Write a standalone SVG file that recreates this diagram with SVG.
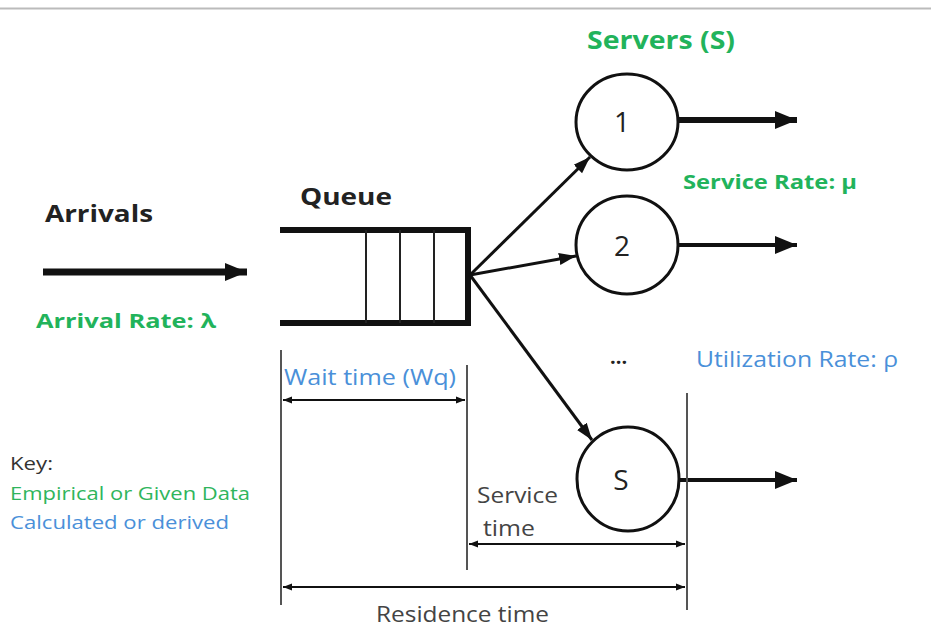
<svg xmlns="http://www.w3.org/2000/svg" width="931" height="628" viewBox="0 0 931 628">
<style>
text{font-family:"Open Sans","Liberation Sans",sans-serif;}
.green{fill:#22b35b;font-weight:bold;}
.blue{fill:#4a90d9;}
.dark{fill:#222;}
.gray{stroke:#555;stroke-width:2;fill:none;}
.server{fill:#fff;stroke:#111;stroke-width:3;}
.dim{stroke:#111;stroke-width:2;fill:none;}
</style>
<defs>
<marker id="big" markerUnits="userSpaceOnUse" markerWidth="24" markerHeight="22" refX="22" refY="11" orient="auto"><path d="M0,2 L22,11 L0,20 Z" fill="#111"/></marker>
<marker id="mid" markerUnits="userSpaceOnUse" markerWidth="18" markerHeight="14" refX="17" refY="7" orient="auto"><path d="M0,1 L17,7 L0,13 Z" fill="#111"/></marker>
<marker id="sm" markerUnits="userSpaceOnUse" markerWidth="10" markerHeight="8" refX="9" refY="4" orient="auto-start-reverse"><path d="M0,0.5 L9,4 L0,7.5 Z" fill="#111"/></marker>
</defs>
<rect width="931" height="628" fill="#fff"/>
<line x1="0" y1="8.5" x2="931" y2="8.5" stroke="#bbb" stroke-width="2"/>

<g id="queue">
<path d="M280,230 H468 V323 H280" fill="none" stroke="#111" stroke-width="6"/>
<line x1="366" y1="230" x2="366" y2="323" stroke="#222" stroke-width="2"/>
<line x1="400" y1="230" x2="400" y2="323" stroke="#222" stroke-width="2"/>
<line x1="434" y1="230" x2="434" y2="323" stroke="#222" stroke-width="2"/>
<text x="300" y="205" font-size="24" font-weight="bold" class="dark" textLength="92" lengthAdjust="spacingAndGlyphs">Queue</text>
</g>

<g id="server1">
<ellipse cx="627" cy="122" rx="51" ry="48" class="server"/>
<text x="622" y="132" font-size="28" class="dark" text-anchor="middle">1</text>
</g>
<g id="server2">
<ellipse cx="627" cy="245" rx="51" ry="49" class="server"/>
<text x="622" y="256" font-size="28" class="dark" text-anchor="middle">2</text>
</g>
<g id="serverS">
<ellipse cx="628" cy="479" rx="51" ry="52" class="server"/>
<text x="621" y="490" font-size="28" class="dark" text-anchor="middle">S</text>
</g>

<g id="connectors">
<line x1="43" y1="272" x2="247" y2="272" stroke="#111" stroke-width="7" marker-end="url(#big)"/>
<line x1="470" y1="275" x2="590" y2="157" stroke="#111" stroke-width="3" marker-end="url(#mid)"/>
<line x1="470" y1="275" x2="576" y2="256" stroke="#111" stroke-width="3" marker-end="url(#mid)"/>
<line x1="470" y1="275" x2="592" y2="440" stroke="#111" stroke-width="3" marker-end="url(#mid)"/>
<line x1="678" y1="120" x2="797" y2="120" stroke="#111" stroke-width="6" marker-end="url(#big)"/>
<line x1="678" y1="245" x2="797" y2="245" stroke="#111" stroke-width="4" marker-end="url(#big)"/>
<line x1="679" y1="480" x2="797" y2="480" stroke="#111" stroke-width="4" marker-end="url(#big)"/>
</g>

<g id="dimensions">
<line x1="281" y1="350" x2="281" y2="605" class="gray"/>
<line x1="467" y1="365" x2="467" y2="570" class="gray"/>
<line x1="687" y1="393" x2="687" y2="610" class="gray"/>
<line x1="283" y1="400" x2="465" y2="400" class="dim" marker-start="url(#sm)" marker-end="url(#sm)"/>
<line x1="469" y1="544" x2="685" y2="544" class="dim" marker-start="url(#sm)" marker-end="url(#sm)"/>
<line x1="283" y1="587" x2="685" y2="587" class="dim" marker-start="url(#sm)" marker-end="url(#sm)"/>
</g>

<g id="labels">
<text x="587" y="49" font-size="25" class="green" textLength="148" lengthAdjust="spacingAndGlyphs">Servers (S)</text>
<text x="45" y="222" font-size="23" font-weight="bold" class="dark" textLength="108" lengthAdjust="spacingAndGlyphs">Arrivals</text>
<text x="36" y="328" font-size="19" class="green" textLength="180" lengthAdjust="spacingAndGlyphs">Arrival Rate: λ</text>
<text x="683" y="189" font-size="19" class="green" textLength="174" lengthAdjust="spacingAndGlyphs">Service Rate: μ</text>
<text x="610" y="364" font-size="20" font-weight="bold" class="dark">...</text>
<text x="696" y="367" font-size="21" class="blue" textLength="202" lengthAdjust="spacingAndGlyphs">Utilization Rate: ρ</text>
<text x="284" y="385" font-size="21" class="blue" textLength="172" lengthAdjust="spacingAndGlyphs">Wait time (Wq)</text>
<text x="477" y="503" font-size="21" fill="#444" textLength="81" lengthAdjust="spacingAndGlyphs">Service</text>
<text x="483" y="536" font-size="21" fill="#444" textLength="52" lengthAdjust="spacingAndGlyphs">time</text>
<text x="376" y="622" font-size="21" fill="#444" textLength="173" lengthAdjust="spacingAndGlyphs">Residence time</text>
</g>

<g id="key">
<text x="10" y="470" font-size="18" fill="#333" textLength="43" lengthAdjust="spacingAndGlyphs">Key:</text>
<text x="10" y="500" font-size="18" fill="#2fb55c" textLength="240" lengthAdjust="spacingAndGlyphs">Empirical or Given Data</text>
<text x="10" y="529" font-size="18" class="blue" textLength="219" lengthAdjust="spacingAndGlyphs">Calculated or derived</text>
</g>
</svg>
